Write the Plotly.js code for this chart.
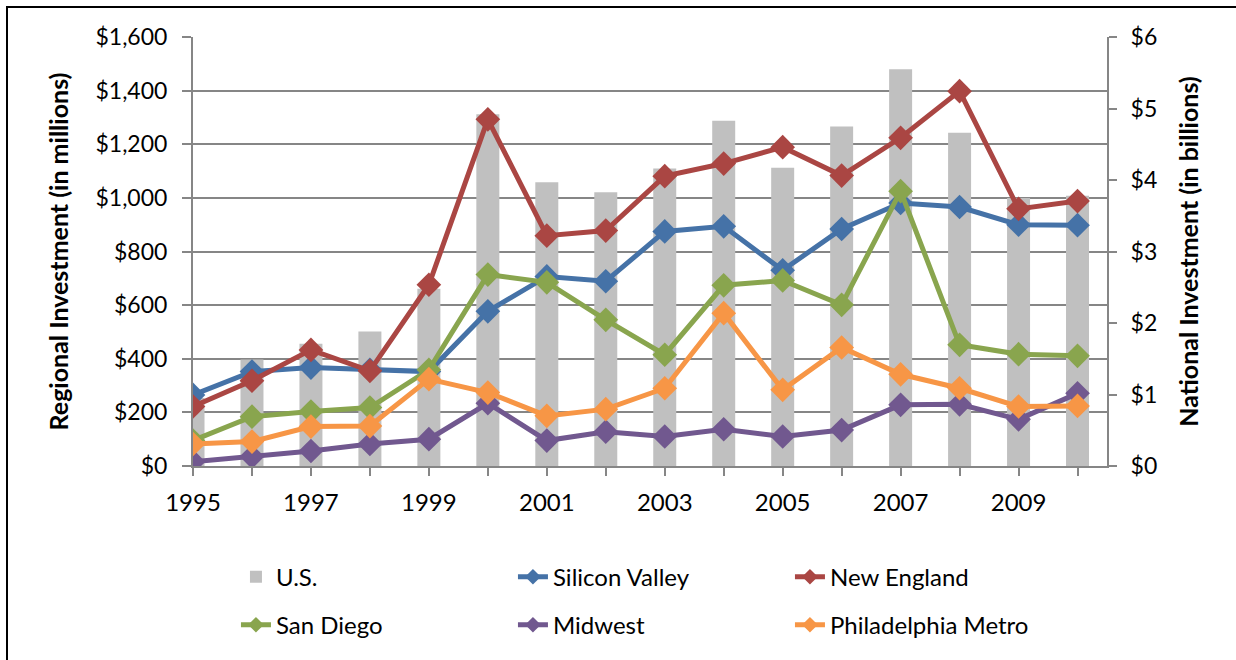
<!DOCTYPE html>
<html>
<head>
<meta charset="utf-8">
<script src="https://cdn.plot.ly/plotly-3.0.1.min.js"></script>
<style>
  html, body { margin: 0; padding: 0; background: #fff; }
  #frame { position: absolute; left: 6px; top: 6px; width: 1300px; height: 700px; border: 2px solid #000; box-sizing: border-box; }
  #chart { position: absolute; left: 0; top: 0; width: 1236px; height: 660px; }
</style>
</head>
<body>
<div id="frame"></div>
<div id="chart"></div>
<script>
const years = [1995,1996,1997,1998,1999,2000,2001,2002,2003,2004,2005,2006,2007,2008,2009,2010];
const tickLabels = years.map(y => (y % 2 === 1 ? String(y) : ''));

// U.S. national investment, $ billions (right axis)
const usBillions = [0.95,1.49,1.71,1.88,2.48,4.92,3.97,3.83,4.16,4.83,4.17,4.75,5.55,4.66,3.75,3.78];

// Regional investment, $ millions (left axis)
const siliconValley = [265,352,367,359,352,577,707,689,875,894,730,884,981,966,900,898];
const newEngland    = [222,318,433,355,676,1293,859,878,1081,1128,1189,1083,1224,1398,959,988];
const sanDiego      = [95,184,203,218,359,714,685,545,415,674,692,601,1025,452,417,411];
const midwest       = [16,35,56,82,100,234,95,128,110,137,110,134,228,230,174,271];
const philadelphia  = [82,91,147,149,324,274,187,212,290,570,284,442,342,290,222,224];

const FONT = 'Lato, "Open Sans", sans-serif';
const GRID = '#868686';

function lineTrace(name, values, color, legend) {
  return {
    type: 'scatter', mode: 'lines+markers', name: name,
    x: years, y: values, yaxis: 'y2', legend: legend,
    line: { color: color, width: 5 },
    marker: { symbol: 'diamond', size: 19, color: color },
    hoverinfo: 'x+y+name'
  };
}

const data = [
  { type: 'bar', name: 'U.S.', x: years, y: usBillions, yaxis: 'y',
    marker: { color: '#C0C0C0' }, width: 0.39, legend: 'legend' },
  lineTrace('Silicon Valley', siliconValley, '#4572A7', 'legend'),
  lineTrace('New England', newEngland, '#AA4643', 'legend'),
  lineTrace('San Diego', sanDiego, '#89A54E', 'legend2'),
  lineTrace('Midwest', midwest, '#71588F', 'legend2'),
  lineTrace('Philadelphia Metro', philadelphia, '#F79646', 'legend2')
];

const legendCommon = {
  orientation: 'h', xanchor: 'left', yanchor: 'middle',
  entrywidth: 232, entrywidthmode: 'pixels', traceorder: 'normal',
  font: { size: 24 }, bgcolor: 'rgba(0,0,0,0)', itemsizing: 'constant'
};

const layout = {
  width: 1236, height: 660,
  margin: { l: 193, r: 129, t: 37, b: 194 },
  paper_bgcolor: 'rgba(0,0,0,0)',
  plot_bgcolor: 'rgba(0,0,0,0)',
  font: { family: FONT, size: 23, color: '#000' },
  showlegend: true,
  xaxis: {
    range: [1995, 2010.5],
    tickvals: years, ticktext: tickLabels,
    ticks: 'outside', ticklen: 8, tickwidth: 2, tickcolor: GRID,
    showline: true, linecolor: GRID, linewidth: 2,
    showgrid: false, zeroline: false,
    tickfont: { size: 24 }, ticklabelstandoff: 6
  },
  yaxis: {
    side: 'right', range: [0, 6], dtick: 1, tickprefix: '$',
    ticks: 'outside', ticklen: 8, tickwidth: 2, tickcolor: GRID,
    showline: true, linecolor: GRID, linewidth: 2,
    showgrid: false, zeroline: false,
    tickfont: { size: 23 }, ticklabelstandoff: 9,
    title: { text: '<b>National Investment (in billions)</b>', font: { size: 25 }, standoff: 24 }
  },
  yaxis2: {
    overlaying: 'y', side: 'left', range: [0, 1600], dtick: 200,
    tickprefix: '$', tickformat: ',d',
    ticks: 'outside', ticklen: 9, tickwidth: 2, tickcolor: GRID,
    showline: true, linecolor: GRID, linewidth: 2,
    showgrid: true, gridcolor: GRID, gridwidth: 2, zeroline: false,
    tickfont: { size: 23 }, ticklabelstandoff: 10,
    title: { text: '<b>Regional Investment (in millions)</b>', font: { size: 25 }, standoff: 20 }
  },
  legend: Object.assign({}, legendCommon, { x: 0.047, y: -0.259 }),
  legend2: Object.assign({}, legendCommon, { x: 0.047, y: -0.371 })
};

Plotly.newPlot('chart', data, layout, { displayModeBar: false, staticPlot: true });
</script>
</body>
</html>
